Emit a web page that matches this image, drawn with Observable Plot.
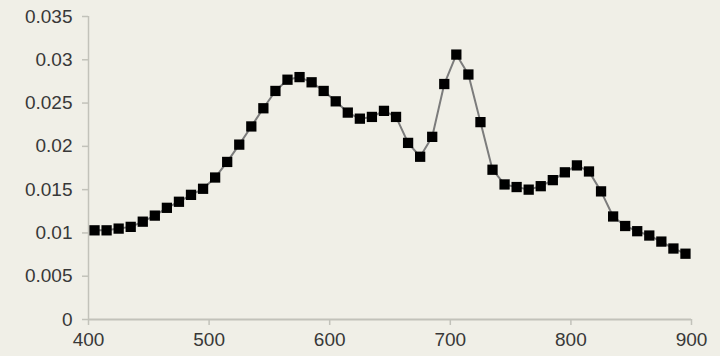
<!DOCTYPE html>
<html>
<head>
<meta charset="utf-8">
<script src="https://cdn.jsdelivr.net/npm/d3@7"></script>
<script src="https://cdn.jsdelivr.net/npm/@observablehq/plot@0.6"></script>
<style>
  html, body { margin: 0; padding: 0; background: #f0efe7; }
  #chart svg { display: block; }
</style>
</head>
<body>
<div id="chart"></div>
<script>
const wavelengths = [405, 415, 425, 435, 445, 455, 465, 475, 485, 495,
                     505, 515, 525, 535, 545, 555, 565, 575, 585, 595,
                     605, 615, 625, 635, 645, 655, 665, 675, 685, 695,
                     705, 715, 725, 735, 745, 755, 765, 775, 785, 795,
                     805, 815, 825, 835, 845, 855, 865, 875, 885, 895];
const values = [0.0103, 0.0103, 0.0105, 0.0107, 0.0113, 0.0120, 0.0129, 0.0136, 0.0144, 0.0151,
                0.0164, 0.0182, 0.0202, 0.0223, 0.0244, 0.0264, 0.0277, 0.0280, 0.0274, 0.0264,
                0.0252, 0.0239, 0.0232, 0.0234, 0.0241, 0.0234, 0.0204, 0.0188, 0.0211, 0.0272,
                0.0306, 0.0283, 0.0228, 0.0173, 0.0156, 0.0153, 0.0150, 0.0154, 0.0161, 0.0170,
                0.0178, 0.0171, 0.0148, 0.0119, 0.0108, 0.0102, 0.0097, 0.0090, 0.0082, 0.0076];
const xTicks = [400, 500, 600, 700, 800, 900];
const yTicks = [0, 0.005, 0.01, 0.015, 0.02, 0.025, 0.03, 0.035];
const yTickLabels = ["0", "0.005", "0.01", "0.015", "0.02", "0.025", "0.03", "0.035"];

const data = wavelengths.map((w, i) => ({x: w, y: values[i]}));
const axisColor = "#c2c2ba";
const textColor = "#383838";

const chart = Plot.plot({
  width: 720,
  height: 356,
  marginLeft: 88,
  marginRight: 29,
  marginTop: 16,
  marginBottom: 37,
  style: {background: "#f0efe7", fontFamily: "Liberation Sans, Arial, sans-serif", fontSize: "19px"},
  x: {domain: [400, 900]},
  y: {domain: [0, 0.035]},
  marks: [
    Plot.axisX(xTicks, {tickSize: 6, tickPadding: 7, stroke: axisColor, strokeWidth: 1.5, fill: textColor, tickFormat: d => String(d), label: null}),
    Plot.axisY(yTicks, {tickSize: 6, tickPadding: 10, stroke: axisColor, strokeWidth: 1.5, fill: textColor, tickFormat: (d, i) => yTickLabels[i], label: null}),
    Plot.ruleY([0], {stroke: axisColor, strokeWidth: 2}),
    Plot.ruleX([400], {stroke: axisColor, strokeWidth: 1.5}),
    Plot.line(data, {x: "x", y: "y", stroke: "#7c7c7c", strokeWidth: 2}),
    Plot.dot(data, {x: "x", y: "y", symbol: "square", r: 5.8, fill: "#000", stroke: "none"})
  ]
});
document.getElementById("chart").appendChild(chart);
</script>
</body>
</html>
